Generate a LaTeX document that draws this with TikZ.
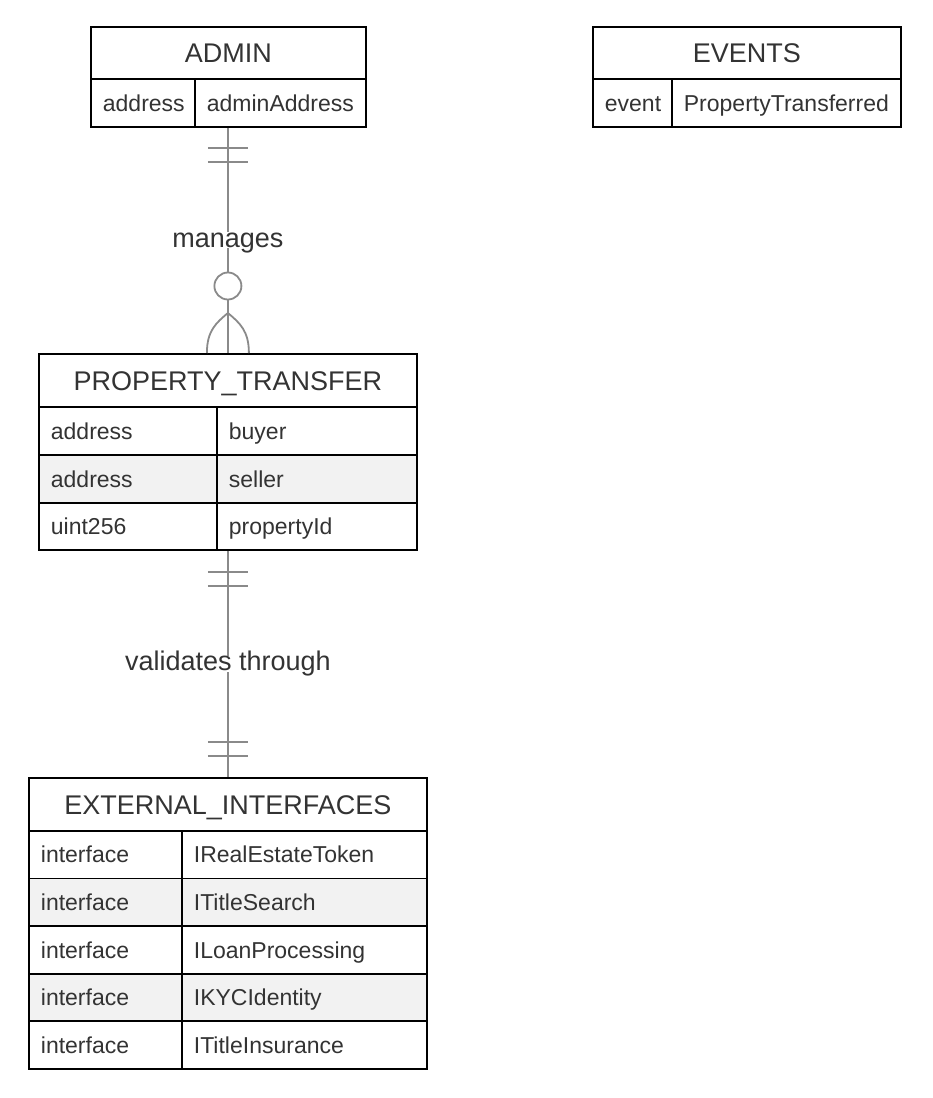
\documentclass[tikz,border=0pt]{standalone}
\usepackage{fontspec}
\setmainfont{Liberation Sans}
\usetikzlibrary{calc,positioning}
\definecolor{ink}{HTML}{333333}
\definecolor{rowgray}{HTML}{F2F2F2}
\definecolor{relgray}{HTML}{8A8A8A}
\tikzset{
    every node/.style={
        text=ink
    },
    entity/.style={
        shape=rectangle,
        draw=black,
        line width=1.8pt,
        anchor=north west,
        minimum height=52pt,
        inner sep=0pt,
        text height=19.3pt,
        text depth=0pt,
        font=\fontsize{27}{32}\selectfont
    },
    attr/.style={
        shape=rectangle,
        draw=black,
        line width=1.8pt,
        anchor=north west,
        minimum height=48pt,
        inner xsep=12pt,
        inner ysep=0pt,
        text height=16.5pt,
        text depth=0pt,
        align=left,
        font=\fontsize{23}{28}\selectfont
    },
    shaded/.style={
        fill=rowgray
    },
    rel/.style={
        draw=relgray,
        line width=1.8pt
    },
    rellabel/.style={
        fill=white,
        inner sep=1pt,
        text height=14pt,
        text depth=0pt,
        font=\fontsize{27}{32}\selectfont
    }
}

\begin{document}
\begin{tikzpicture}[x=1pt, y=-1pt]
		\useasboundingbox (0,0) rectangle (932,1098);
		% ADMIN
		\node (adm-h) at (90,26) [entity, minimum width=275pt] {ADMIN};
		\node (adm-k) at (90,78) [attr, text width=80pt] {address};
		\node (adm-v) at (194,78) [attr, text width=147pt] {adminAddress};
		% EVENTS
		\node (evt-h) at (592,26) [entity, minimum width=308pt] {EVENTS};
		\node (evt-k) at (592,78) [attr, text width=55pt] {event};
		\node (evt-v) at (671,78) [attr, text width=205pt] {PropertyTransferred};
		% PROPERTY_TRANSFER
		\node (pt-h) at (38,353) [entity, minimum width=378pt, minimum height=53pt] {PROPERTY\_TRANSFER};
		\node (pt-k1) at (38,406) [attr, text width=154pt] {address};
		\node (pt-v1) at (216,406) [attr, text width=176pt] {buyer};
		\node (pt-k2) at (38,454) [attr, shaded, text width=154pt] {address};
		\node (pt-v2) at (216,454) [attr, shaded, text width=176pt] {seller};
		\node (pt-k3) at (38,502) [attr, text width=154pt, minimum height=47pt] {uint256};
		\node (pt-v3) at (216,502) [attr, text width=176pt, minimum height=47pt] {propertyId};
		% EXTERNAL_INTERFACES
		\node (ext-h) at (28,777) [entity, minimum width=398pt, minimum height=53pt] {EXTERNAL\_INTERFACES};
		\node (ext-k1) at (28,830) [attr, text width=129pt, minimum height=47.6pt] {interface};
		\node (ext-v1) at (181,830) [attr, text width=221pt, minimum height=47.6pt] {IRealEstateToken};
		\node (ext-k2) at (28,877.6) [attr, shaded, text width=129pt, minimum height=47.6pt] {interface};
		\node (ext-v2) at (181,877.6) [attr, shaded, text width=221pt, minimum height=47.6pt] {ITitleSearch};
		\node (ext-k3) at (28,925.2) [attr, text width=129pt, minimum height=47.6pt] {interface};
		\node (ext-v3) at (181,925.2) [attr, text width=221pt, minimum height=47.6pt] {ILoanProcessing};
		\node (ext-k4) at (28,972.8) [attr, shaded, text width=129pt, minimum height=47.6pt] {interface};
		\node (ext-v4) at (181,972.8) [attr, shaded, text width=221pt, minimum height=47.6pt] {IKYCIdentity};
		\node (ext-k5) at (28,1020.4) [attr, text width=129pt, minimum height=47.6pt] {interface};
		\node (ext-v5) at (181,1020.4) [attr, text width=221pt, minimum height=47.6pt] {ITitleInsurance};
		% Relationships
		\coordinate (r1a) at (adm-k.south -| pt-h.north);
		\coordinate (r2a) at (pt-k3.south -| pt-h.north);
		\draw [rel] (r1a) -- node[rellabel] (lbl1) {manages} (pt-h.north);
		\draw [rel] (r2a) -- node[rellabel] (lbl2) {validates through} (ext-h.north);
		% ADMIN side: exactly one
		\draw [rel] ($(r1a)+(-20,20)$) -- ++(40,0);
		\draw [rel] ($(r1a)+(-20,34)$) -- ++(40,0);
		% PROPERTY_TRANSFER side: zero or many
		\draw [rel, fill=white] ($(pt-h.north)+(0,-67)$) circle[radius=13.5];
		\draw [rel] ($(pt-h.north)+(-21,0)$) .. controls +(0,-22) and +(-12,10) .. ($(pt-h.north)+(0,-40)$)
			.. controls +(12,10) and +(0,-22) .. ($(pt-h.north)+(21,0)$);
		% PROPERTY_TRANSFER / EXTERNAL_INTERFACES: exactly one each side
		\draw [rel] ($(r2a)+(-20,21)$) -- ++(40,0);
		\draw [rel] ($(r2a)+(-20,35)$) -- ++(40,0);
		\draw [rel] ($(ext-h.north)+(-20,-35)$) -- ++(40,0);
		\draw [rel] ($(ext-h.north)+(-20,-21)$) -- ++(40,0);
	\end{tikzpicture}
\end{document}
